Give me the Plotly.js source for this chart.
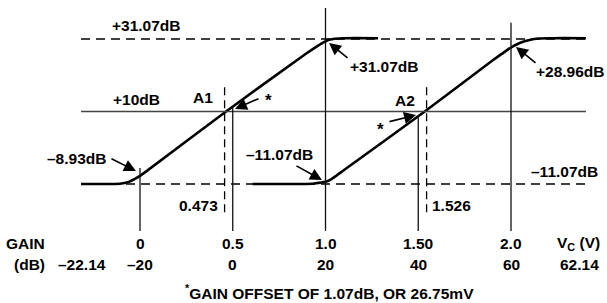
<!DOCTYPE html>
<html><head><meta charset="utf-8">
<script src="https://cdn.plot.ly/plotly-3.0.1.min.js"></script>
<style>html,body{margin:0;padding:0;background:#fff}#chart{width:607px;height:303px}</style>
</head><body><div id="chart"></div>
<script>
// ---- data ----
const a1V = [-0.318, -0.15, -0.1, -0.06, -0.03, 0, 0.03, 0.464, 0.9, 0.95, 0.98, 1.0, 1.02, 1.05, 1.1, 1.283];
const a1Gain = [-11.07, -11.05, -10.9, -10.45, -9.65, -8.7, -7.55, 10.0, 27.0, 28.8, 29.8, 30.4, 30.85, 31.15, 31.3, 31.3];
const a2V = [0.607, 0.88, 0.94, 1.0, 1.03, 1.06, 1.1, 1.535, 1.9, 1.95, 2.0, 2.05, 2.1, 2.15, 2.22, 2.404];
const a2Gain = [-11.07, -11.05, -10.9, -10.45, -9.7, -8.6, -7.0, 10.0, 24.8, 26.75, 28.6, 30.0, 30.8, 31.2, 31.3, 31.3];
const levelGain = [31.07, 10, -11.07];            // horizontal reference levels
const levelDashed = [true, false, true];
const levelSpan = [-0.318, 2.404];
const tickV = [0, 0.5, 1.0, 1.5, 2.0];            // Vc ticks
const tickVText = ["0", "0.5", "1.0", "1.50", "2.0"];
const tickDbText = ["–20", "0", "20", "40", "60"];
const tickTop = [-6.45, 11.1, 40.1, 9.0, 35.8];  // where each tick line starts
const tickBottom = -24.73;
const markV = [0.456, 1.545];                     // +10 dB crossing markers
const markText = ["0.473", "1.526"];
const markTop = 17.1, markBottom = -19.3;

// ---- layout helpers ----
const F = {family: "Liberation Sans, Arial, Helvetica, sans-serif", size: 15.5, color: "#000", weight: "bold"};
const traces = [];
traces.push({x: a1V, y: a1Gain, mode: "lines", line: {color: "#000", width: 2.6, shape: "spline", smoothing: 0.8}, hoverinfo: "skip"});
traces.push({x: a2V, y: a2Gain, mode: "lines", line: {color: "#000", width: 2.6, shape: "spline", smoothing: 0.8}, hoverinfo: "skip"});
levelGain.forEach((g, i) => traces.push({x: levelSpan, y: [g, g], mode: "lines",
  line: levelDashed[i] ? {color: "#000", width: 1.3, dash: "9px,6px"} : {color: "#444", width: 1.6}, hoverinfo: "skip"}));
tickV.forEach((v, i) => traces.push({x: [v, v], y: [tickBottom, tickTop[i]], mode: "lines", line: {color: "#111", width: 1.3}, hoverinfo: "skip"}));
markV.forEach(v => traces.push({x: [v, v], y: [markBottom, markTop], mode: "lines", line: {color: "#000", width: 1.3, dash: "8px,5px"}, hoverinfo: "skip"}));

const ann = [];
function txt(x, y, t, xa, extra) { ann.push(Object.assign({x, y, text: t, showarrow: false, font: F, xanchor: xa || "center", yanchor: "middle"}, extra || {})); }
function arr(x, y, ax, ay) { ann.push({x, y, ax, ay, text: "", showarrow: true, arrowhead: 2, arrowsize: 1.5, arrowwidth: 1.6, arrowcolor: "#000", standoff: 0}); }

txt(0.035, 34.85, "+31.07dB");
txt(-0.156, 13.43, "+10dB", "left");
txt(0.340, 14.07, "A1");
txt(0.690, 13.2, "*", "center", {font: Object.assign({}, F, {size: 17})});
txt(1.319, 23.22, "+31.07dB");
txt(2.323, 21.77, "+28.96dB");
txt(1.431, 13.34, "A2");
txt(1.296, 4.91, "*", "center", {font: Object.assign({}, F, {size: 17})});
txt(-0.341, -3.60, "–8.93dB");
txt(0.753, -2.41, "–11.07dB");
txt(2.291, -7.58, "–11.07dB");
markV.forEach((v, i) => txt(i === 0 ? 0.316 : 1.677, -17.40, markText[i]));
tickV.forEach((v, i) => { txt(v, -28.45, tickVText[i]); txt(v, -34.32, tickDbText[i]); });
txt(-0.501, -28.45, "GAIN", "right");
txt(-0.501, -34.32, "(dB)", "right");
txt(-0.314, -34.32, "–22.14");
txt(2.362, -28.45, "V<sub>C</sub> (V)");
txt(2.369, -34.32, "62.14");
txt(1.019, -42.46, "<sup>*</sup>GAIN OFFSET OF 1.07dB, OR 26.75mV");

arr(-0.0216, -7.29, -26, -13);
arr(0.512, 10.73, 25, -11);
arr(0.981, -9.91, -27, -15);
arr(1.019, 29.91, 20, 16);
arr(2.027, 28.75, 21, 17);
arr(1.488, 8.98, -28, 7);

const layout = {
  width: 607, height: 303, margin: {l: 0, r: 0, t: 0, b: 0},
  paper_bgcolor: "#fff", plot_bgcolor: "#fff", showlegend: false,
  xaxis: {range: [-0.75472, 2.51752], visible: false, fixedrange: true},
  yaxis: {range: [-45.652, 42.404], visible: false, fixedrange: true},
  annotations: ann
};
Plotly.newPlot("chart", traces, layout, {staticPlot: true, displayModeBar: false});
</script></body></html>
